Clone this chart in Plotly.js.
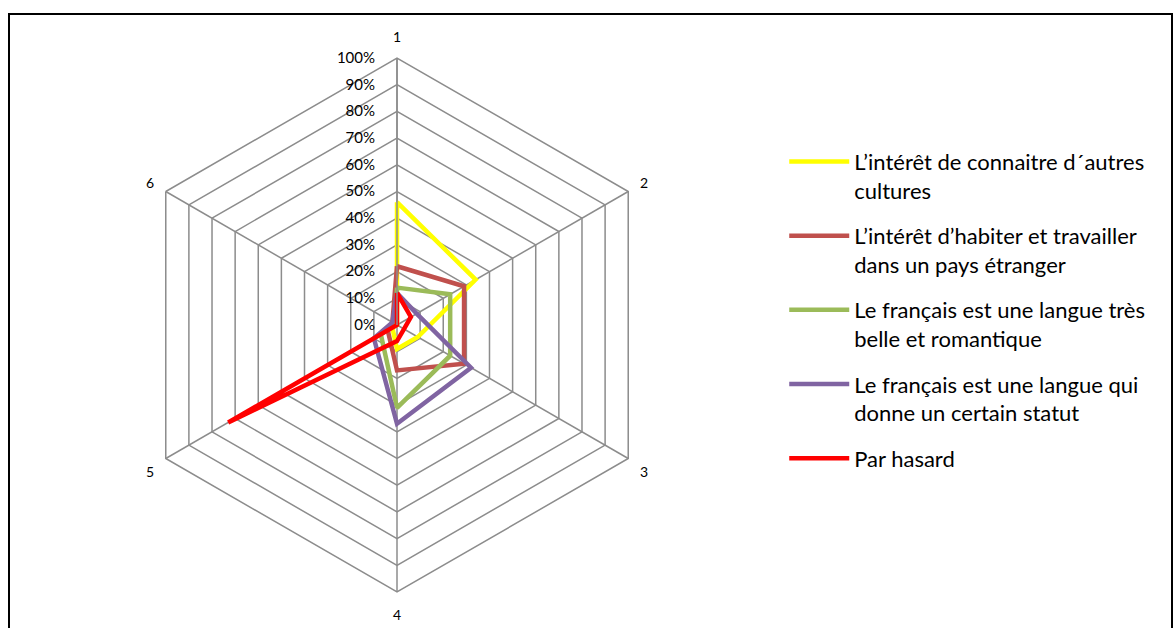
<!DOCTYPE html>
<html>
<head>
<meta charset="utf-8">
<script src="https://cdn.plot.ly/plotly-3.0.1.min.js"></script>
<style>html,body{margin:0;padding:0;background:#fff;}#chart{width:1174px;height:628px;}</style>
</head>
<body>
<div id="chart"></div>
<script>
// Axes (categories) of the radar chart
var categories = ['1', '2', '3', '4', '5', '6'];

// Series names
var seriesNames = [
  'L\u2019intérêt de connaitre d\u00b4autres<br>cultures',
  'L\u2019intérêt d\u2019habiter et travailler<br>dans un pays étranger',
  'Le français est une langue très<br>belle et romantique',
  'Le français est une langue qui<br>donne un certain statut',
  'Par hasard'
];

// Series values (percent), one per category
var interetCultures   = [46, 34, 9, 9, 2, 0];
var interetHabiter    = [22, 29, 29, 17, 4, 2];
var langueBelle       = [14, 23, 23, 31, 7, 1];
var langueStatut      = [12, 8.5, 32, 37, 10, 2];
var parHasard         = [12, 6, 3, 6, 73, 0];

// Radial tick values
var radialTicks = [0, 10, 20, 30, 40, 50, 60, 70, 80, 90, 100];

var seriesValues = [interetCultures, interetHabiter, langueBelle, langueStatut, parHasard];
var seriesColors = ['#FFFF00', '#C0504D', '#9BBB59', '#8064A2', '#FF0000'];

var closedTheta = categories.concat([categories[0]]);
var traces = seriesValues.map(function (vals, i) {
  return {
    type: 'scatterpolar',
    mode: 'lines',
    r: vals.concat([vals[0]]),
    theta: closedTheta,
    name: seriesNames[i],
    legendgroup: 'g' + i,
    line: {color: seriesColors[i], width: 4.5, shape: 'linear'},
    hoverinfo: 'skip'
  };
});

var font = 'Lato, "Liberation Sans", sans-serif';
var gridCol = '#8c8c8c';

var layout = {
  width: 1174,
  height: 628,
  margin: {l: 0, r: 0, t: 0, b: 0},
  paper_bgcolor: '#ffffff',
  plot_bgcolor: '#ffffff',
  font: {family: font, color: '#000000', size: 14},
  showlegend: true,
  legend: {
    x: 0.668, y: 0.776, xanchor: 'left', yanchor: 'top',
    font: {family: font, size: 22, color: '#000000'},
    valign: 'top',
    itemwidth: 60,
    tracegroupgap: 14,
    bgcolor: 'rgba(0,0,0,0)'
  },
  polar: {
    domain: {x: [130 / 1174, 664 / 1174], y: [36 / 628, 570 / 628]},
    bgcolor: '#ffffff',
    gridshape: 'linear',
    radialaxis: {
      range: [0, 100],
      tickvals: radialTicks,
      ticktext: radialTicks.map(function (v) { return v + '%'; }),
      angle: 90,
      tickangle: 90,
      side: 'counterclockwise',
      showline: true,
      linecolor: gridCol,
      linewidth: 1.5,
      gridcolor: gridCol,
      gridwidth: 1.5,
      ticks: 'outside',
      ticklen: 16,
      tickcolor: 'rgba(0,0,0,0)',
      tickfont: {family: font, size: 15, color: '#000000'}
    },
    angularaxis: {
      type: 'category',
      categoryarray: categories,
      direction: 'clockwise',
      rotation: 90,
      showline: true,
      linecolor: gridCol,
      linewidth: 1.5,
      gridcolor: gridCol,
      gridwidth: 1.5,
      ticks: 'outside',
      ticklen: 10,
      tickcolor: 'rgba(0,0,0,0)',
      tickfont: {family: font, size: 14, color: '#000000'}
    }
  },
  shapes: [{
    type: 'rect', xref: 'paper', yref: 'paper',
    x0: 9 / 1174, x1: 1172 / 1174, y0: -0.05, y1: 1 - 14 / 628,
    line: {color: '#000000', width: 2}, fillcolor: 'rgba(0,0,0,0)', layer: 'above'
  }]
};

Plotly.newPlot('chart', traces, layout, {displayModeBar: false, staticPlot: true});
</script>
</body>
</html>
